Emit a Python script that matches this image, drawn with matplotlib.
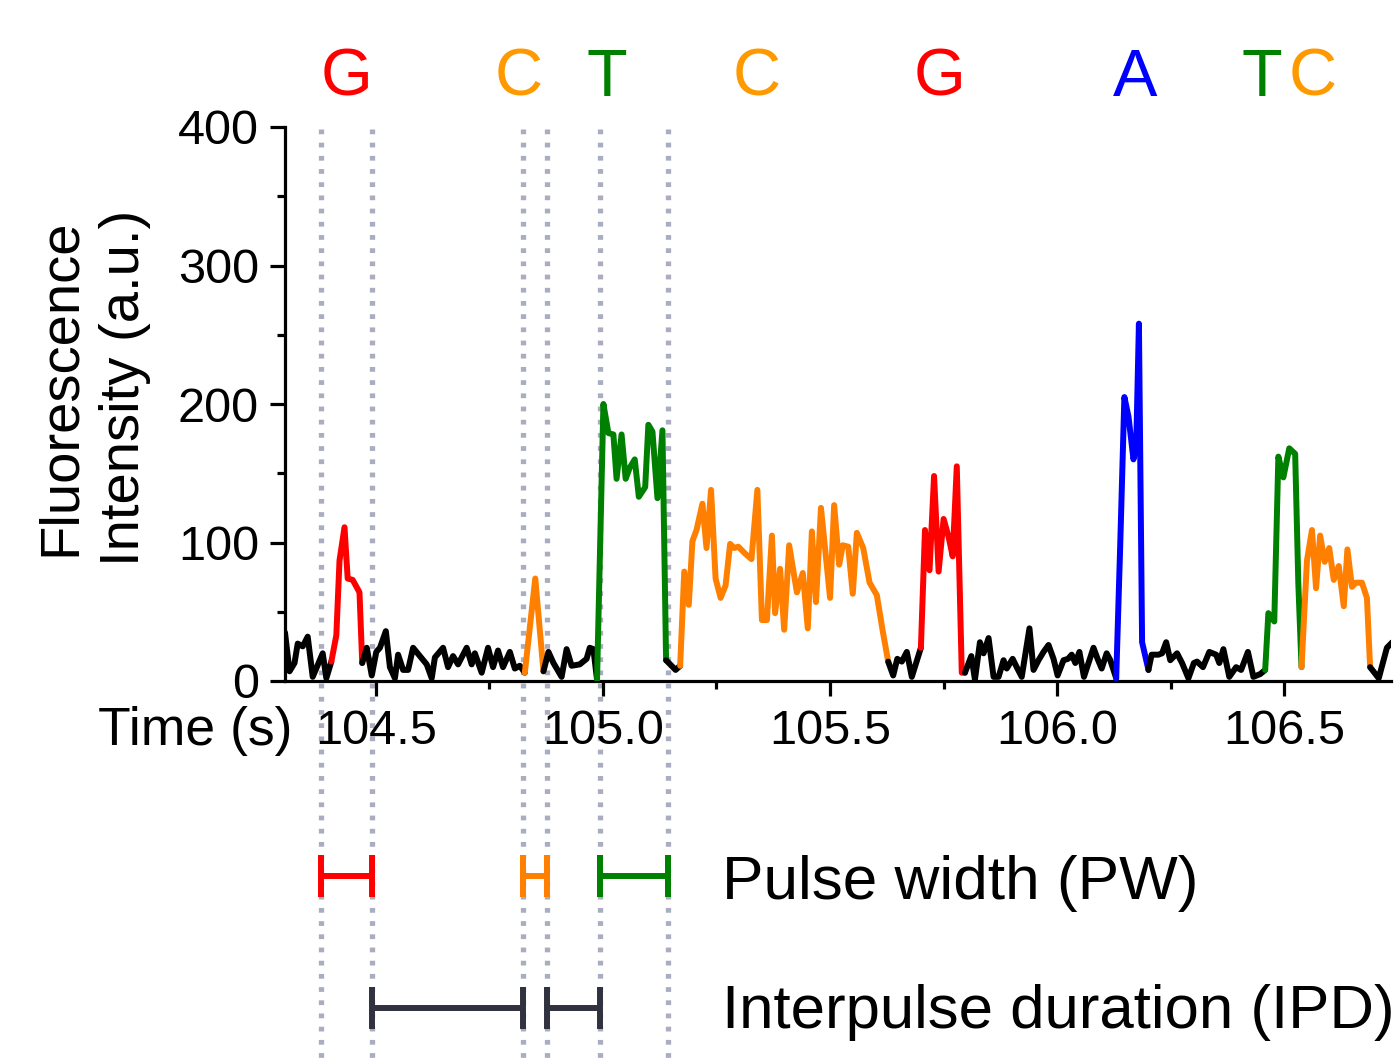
import numpy as np
import matplotlib
matplotlib.use('Agg')
import matplotlib.pyplot as plt
from matplotlib.ticker import MultipleLocator, FormatStrFormatter

plt.rcParams['font.family'] = ['Liberation Sans', 'DejaVu Sans']

# ---------------- data ----------------
time_s = [
    104.300, 104.310, 104.321, 104.328, 104.339, 104.350, 104.361, 104.383, 104.391,
    104.402, 104.413, 104.420, 104.431, 104.438, 104.449, 104.464, 104.470,
    104.480, 104.491, 104.501, 104.509, 104.522, 104.531, 104.542, 104.549, 104.560,
    104.571, 104.582, 104.597, 104.612, 104.623, 104.630, 104.648, 104.659, 104.670,
    104.681, 104.700, 104.711, 104.718, 104.733, 104.747, 104.758, 104.769, 104.780,
    104.795, 104.806, 104.817,
    104.828, 104.851, 104.869,
    104.880, 104.891, 104.909, 104.920, 104.931, 104.949, 104.964, 104.971, 104.979,
    104.987, 105.001, 105.012, 105.023, 105.030, 105.041, 105.050, 105.059, 105.070,
    105.079, 105.093, 105.100, 105.109, 105.120, 105.131, 105.139,
    105.151, 105.160,
    105.170, 105.179, 105.189, 105.197, 105.206, 105.219, 105.228, 105.238, 105.248,
    105.259, 105.270, 105.280, 105.289, 105.298, 105.313, 105.327, 105.340, 105.350,
    105.361, 105.372, 105.379, 105.390, 105.399, 105.410, 105.427, 105.440, 105.451,
    105.460, 105.469, 105.480, 105.500, 105.509, 105.520, 105.528, 105.540, 105.550,
    105.559, 105.573, 105.587, 105.603, 105.616, 105.628,
    105.639, 105.648, 105.658, 105.669, 105.680,
    105.700, 105.709, 105.719, 105.729, 105.739, 105.750, 105.761, 105.770, 105.779,
    105.790, 105.797,
    105.811, 105.819, 105.830, 105.838, 105.849, 105.860, 105.871, 105.882, 105.889,
    105.902, 105.911, 105.922, 105.939, 105.948, 105.959, 105.970, 105.981, 105.992,
    106.001, 106.014, 106.024, 106.032, 106.040, 106.049, 106.059, 106.080, 106.089,
    106.098, 106.109, 106.117,
    106.130, 106.139, 106.148, 106.157, 106.168, 106.174, 106.180, 106.187, 106.201,
    106.208, 106.223, 106.231, 106.240, 106.249, 106.264, 106.275, 106.289, 106.301,
    106.308, 106.321, 106.335, 106.350, 106.357, 106.366, 106.379, 106.394, 106.405,
    106.420, 106.432, 106.447,
    106.458, 106.465, 106.478, 106.487, 106.498, 106.511, 106.524, 106.531,
    106.538, 106.550, 106.561, 106.570, 106.579, 106.589, 106.599, 106.609, 106.620,
    106.631, 106.639, 106.649, 106.658, 106.671, 106.682, 106.689,
    106.708, 106.726, 106.738,
]
intensity = [
    35, 7, 13, 27, 25, 32, 3, 20, 2,
    14, 33, 87, 111, 74, 73, 64, 13,
    24, 4, 21, 24, 36, 10, 2, 19, 8,
    8, 24, 18, 12, 2, 17, 24, 10, 18,
    12, 24, 12, 20, 6, 24, 10, 22, 10,
    21, 9, 11,
    6, 74, 7,
    21, 13, 3, 23, 11, 12, 16, 24, 23,
    1, 200, 179, 178, 146, 178, 146, 154, 160,
    133, 140, 185, 180, 132, 181, 15,
    11, 8,
    11, 79, 55, 101, 109, 128, 96, 138, 74,
    60, 69, 99, 96, 97, 92, 88, 138, 44,
    44, 105, 49, 81, 37, 98, 64, 78, 38,
    108, 57, 125, 60, 127, 84, 98, 97, 63,
    107, 96, 71, 62, 36, 14,
    4, 16, 14, 21, 3,
    24, 109, 80, 148, 79, 117, 104, 90, 155,
    6, 6,
    18, 1, 28, 20, 31, 3, 3, 15, 9,
    16, 10, 3, 38, 8, 15, 21, 26, 16,
    4, 15, 16, 19, 13, 21, 3, 24, 16,
    9, 20, 15,
    2, 100, 205, 191, 160, 169, 258, 28, 8,
    19, 19, 20, 28, 15, 20, 13, 2, 13,
    14, 10, 21, 19, 13, 23, 3, 10, 8,
    21, 3, 5,
    8, 49, 43, 162, 147, 168, 164, 70,
    10, 87, 109, 67, 105, 86, 96, 73, 83,
    54, 95, 68, 71, 71, 60, 10,
    2, 24, 28,
]

pulse_bases = ['G', 'C', 'T', 'C', 'G', 'A', 'T', 'C']
pulse_start = [104.402, 104.828, 104.987, 105.170, 105.700, 106.130, 106.458, 106.538]
pulse_end = [104.470, 104.869, 105.139, 105.628, 105.797, 106.201, 106.538, 106.689]

label_bases = ['G', 'C', 'T', 'C', 'G', 'A', 'T', 'C']
label_times = [104.436, 104.815, 105.009, 105.339, 105.742, 106.172, 106.451, 106.562]

guide_times = [104.379, 104.491, 104.824, 104.877, 104.993, 105.143]

pw_start = [104.379, 104.824, 104.993]
pw_end = [104.491, 104.877, 105.143]
pw_bases = ['G', 'C', 'T']

ipd_start = [104.491, 104.877]
ipd_end = [104.824, 104.993]

x_ticks = [104.5, 105.0, 105.5, 106.0, 106.5]
y_ticks = [0, 100, 200, 300, 400]

# ---------------- styling ----------------
line_colors = {'G': '#FF0000', 'C': '#FF8000', 'T': '#008000', 'A': '#0000FF'}
letter_colors = {'G': '#FF0000', 'C': '#FF9900', 'T': '#008000', 'A': '#0000FF'}
ipd_color = '#30333F'
guide_color = '#A9ADBF'

W, H = 1396, 1058
fig = plt.figure(figsize=(W / 100, H / 100), dpi=100)
ax_left, ax_right, ax_top, ax_bot = 285, 1391, 127, 681
ax = fig.add_axes([ax_left / W, 1 - ax_bot / H, (ax_right - ax_left) / W, (ax_bot - ax_top) / H])

XMIN, XMAX, YMIN, YMAX = 104.30, 106.735, 0, 400
ax.set_xlim(XMIN, XMAX)
ax.set_ylim(YMIN, YMAX)


def ypx(py):
    """pixel row -> data y"""
    return (ax_bot - py) * (YMAX - YMIN) / (ax_bot - ax_top)


t = np.array(time_s)
v = np.array(intensity, dtype=float)
lw_trace = 4.3
kw = dict(lw=lw_trace, solid_joinstyle='round', solid_capstyle='round', zorder=3)

# colored pulses and black baseline between them
idx_ranges = []
for s, e in zip(pulse_start, pulse_end):
    i0 = int(np.argmin(np.abs(t - s)))
    i1 = int(np.argmin(np.abs(t - e)))
    idx_ranges.append((i0, i1))

prev = 0
for (i0, i1), b in zip(idx_ranges, pulse_bases):
    if i0 > prev:
        ax.plot(t[prev:i0 + 1], v[prev:i0 + 1], color='black', **kw)
    ax.plot(t[i0:i1 + 1], v[i0:i1 + 1], color=line_colors[b], **kw)
    prev = i1
ax.plot(t[prev:], v[prev:], color='black', **kw)

# dotted guide lines extending below the axes
for g in guide_times:
    ax.plot([g, g], [YMAX - 1.5, ypx(H)], color=guide_color, lw=3.8,
            linestyle=(0, (0.9, 1.6)), dash_capstyle='butt', clip_on=False, zorder=1)

# base letters above the axes
for b, x in zip(label_bases, label_times):
    ax.text(x, ypx(96), b, color=letter_colors[b], fontsize=48, ha='center',
            va='baseline', clip_on=False)

# PW / IPD bars
bar_lw = 4.3


def hbar(x0, x1, yc, half, color):
    ax.plot([x0, x1], [yc, yc], color=color, lw=bar_lw, solid_capstyle='butt', clip_on=False, zorder=4)
    for xx in (x0, x1):
        ax.plot([xx, xx], [yc - half, yc + half], color=color, lw=bar_lw,
                solid_capstyle='butt', clip_on=False, zorder=4)


pw_y = ypx(876)
ipd_y = ypx(1008)
half = (YMAX - YMIN) / (ax_bot - ax_top) * 21
for s, e, b in zip(pw_start, pw_end, pw_bases):
    hbar(s, e, pw_y, half, line_colors[b])
for s, e in zip(ipd_start, ipd_end):
    hbar(s, e, ipd_y, half, ipd_color)

fig.text(722 / W, 1 - 899 / H, 'Pulse width (PW)', fontsize=44.7, ha='left', va='baseline')
fig.text(722 / W, 1 - 1028 / H, 'Interpulse duration (IPD)', fontsize=44.5, ha='left', va='baseline')

# axes styling
for sp in ('top', 'right'):
    ax.spines[sp].set_visible(False)
for sp in ('left', 'bottom'):
    ax.spines[sp].set_linewidth(2.3)

ax.set_xticks(x_ticks)
ax.xaxis.set_minor_locator(MultipleLocator(0.25))
ax.xaxis.set_major_formatter(FormatStrFormatter('%.1f'))
ax.set_yticks(y_ticks)
ax.yaxis.set_minor_locator(MultipleLocator(50))
ax.tick_params(which='major', direction='out', length=10.8, width=2.3, labelsize=35)
ax.tick_params(which='minor', direction='out', length=5.8, width=2.3)
ax.tick_params(axis='x', which='major', pad=9)
ax.tick_params(axis='y', which='major', pad=8)

fig.text(98 / W, 1 - 745 / H, 'Time (s)', fontsize=38.5, ha='left', va='baseline')

fig.text(75 / W, 1 - 387 / H, 'Fluorescence', fontsize=40.5, rotation=90,
         rotation_mode='anchor', ha='center', va='baseline')
fig.text(139 / W, 1 - 388 / H, 'Intensity (a.u.)', fontsize=40.5, rotation=90,
         rotation_mode='anchor', ha='center', va='baseline')

fig.savefig('out.png', dpi=100)
